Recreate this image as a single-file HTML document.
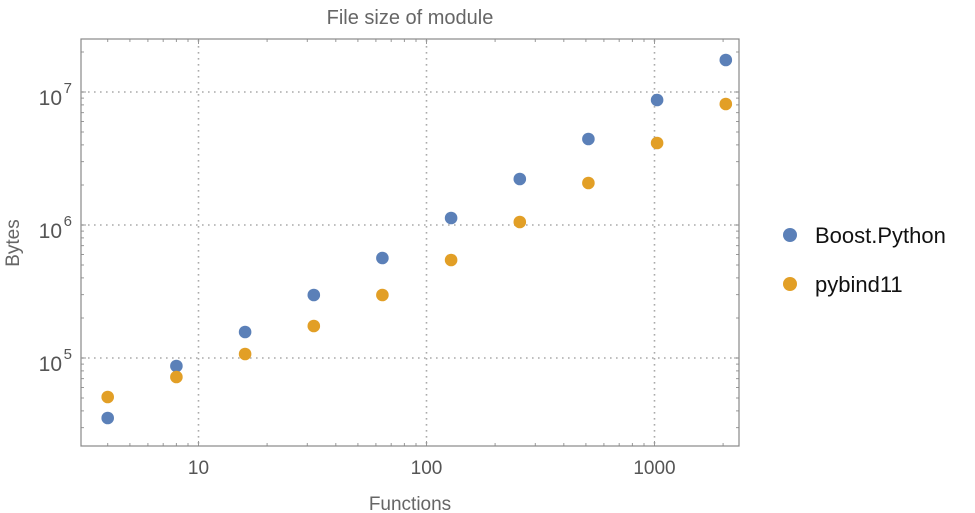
<!DOCTYPE html>
<html><head><meta charset="utf-8"><style>
body{margin:0;background:#fff;}
svg{display:block;font-family:"Liberation Sans",sans-serif;}
</style></head><body>
<svg width="975" height="513" viewBox="0 0 975 513" xmlns="http://www.w3.org/2000/svg">
<rect width="975" height="513" fill="#fff"/>
<text x="410" y="24" font-size="20" fill="#666" text-anchor="middle">File size of module</text>
<g stroke="#aaa" stroke-width="1.6" stroke-dasharray="1.6,4.4">
<line x1="198.5" y1="40" x2="198.5" y2="445"/>
<line x1="426.5" y1="40" x2="426.5" y2="445"/>
<line x1="654.5" y1="40" x2="654.5" y2="445"/>
<line x1="82" y1="92" x2="738" y2="92"/>
<line x1="82" y1="225" x2="738" y2="225"/>
<line x1="82" y1="358" x2="738" y2="358"/>
</g>
<g stroke="#999" stroke-width="1">
<path d="M107.7 446v-3M129.9 446v-3M147.9 446v-3M163.2 446v-3M176.4 446v-3M188 446v-3M267.1 446v-3M307.3 446v-3M335.8 446v-3M357.9 446v-3M375.9 446v-3M391.2 446v-3M404.4 446v-3M416 446v-3M495.1 446v-3M535.3 446v-3M563.8 446v-3M585.9 446v-3M603.9 446v-3M619.2 446v-3M632.4 446v-3M644 446v-3M723.1 446v-3M198.5 446v-5M426.5 446v-5M654.5 446v-5"/>
<path d="M107.7 39v3M129.9 39v3M147.9 39v3M163.2 39v3M176.4 39v3M188 39v3M267.1 39v3M307.3 39v3M335.8 39v3M357.9 39v3M375.9 39v3M391.2 39v3M404.4 39v3M416 39v3M495.1 39v3M535.3 39v3M563.8 39v3M585.9 39v3M603.9 39v3M619.2 39v3M632.4 39v3M644 39v3M723.1 39v3M198.5 39v5M426.5 39v5M654.5 39v5"/>
<path d="M81 427.6h3M81 410.9h3M81 398h3M81 387.5h3M81 378.6h3M81 370.9h3M81 364.1h3M81 318h3M81 294.6h3M81 277.9h3M81 265h3M81 254.5h3M81 245.6h3M81 237.9h3M81 231.1h3M81 185h3M81 161.6h3M81 144.9h3M81 132h3M81 121.5h3M81 112.6h3M81 104.9h3M81 98.1h3M81 52h3M81 358h5M81 225h5M81 92h5"/>
<path d="M739 427.6h-3M739 410.9h-3M739 398h-3M739 387.5h-3M739 378.6h-3M739 370.9h-3M739 364.1h-3M739 318h-3M739 294.6h-3M739 277.9h-3M739 265h-3M739 254.5h-3M739 245.6h-3M739 237.9h-3M739 231.1h-3M739 185h-3M739 161.6h-3M739 144.9h-3M739 132h-3M739 121.5h-3M739 112.6h-3M739 104.9h-3M739 98.1h-3M739 52h-3M739 358h-5M739 225h-5M739 92h-5"/>
</g>
<rect x="81" y="39" width="658" height="407" fill="none" stroke="#888" stroke-width="1.2"/>
<g font-size="19" fill="#555" text-anchor="middle">
<text x="198.5" y="474">10</text>
<text x="426.5" y="474">100</text>
<text x="654.5" y="474">1000</text>
</g>
<g font-size="21" fill="#555" text-anchor="end">
<text x="62" y="105">10</text><text x="72" y="93" font-size="15">7</text>
<text x="62" y="238">10</text><text x="72" y="226" font-size="15">6</text>
<text x="62" y="371">10</text><text x="72" y="359" font-size="15">5</text>
</g>
<text x="410" y="510" font-size="19" fill="#666" text-anchor="middle">Functions</text>
<text x="19" y="243" font-size="19" fill="#666" text-anchor="middle" transform="rotate(-90 19 243)">Bytes</text>
<g fill="#5b80b8">
<circle cx="107.7" cy="418" r="6.3"/><circle cx="176.4" cy="366" r="6.3"/><circle cx="245.1" cy="332" r="6.3"/><circle cx="313.8" cy="295" r="6.3"/><circle cx="382.4" cy="258" r="6.3"/><circle cx="451.1" cy="218" r="6.3"/><circle cx="519.8" cy="179" r="6.3"/><circle cx="588.4" cy="139" r="6.3"/><circle cx="657.1" cy="100" r="6.3"/><circle cx="725.8" cy="60" r="6.3"/>
</g>
<g fill="#e29f26">
<circle cx="107.7" cy="397" r="6.3"/><circle cx="176.4" cy="377" r="6.3"/><circle cx="245.1" cy="354" r="6.3"/><circle cx="313.8" cy="326" r="6.3"/><circle cx="382.4" cy="295" r="6.3"/><circle cx="451.1" cy="260" r="6.3"/><circle cx="519.8" cy="222" r="6.3"/><circle cx="588.4" cy="183" r="6.3"/><circle cx="657.1" cy="143" r="6.3"/><circle cx="725.8" cy="104" r="6.3"/>
</g>
<circle cx="790" cy="235" r="7" fill="#5b80b8"/>
<circle cx="790" cy="284" r="7" fill="#e29f26"/>
<text x="815" y="243" font-size="22" fill="#111">Boost.Python</text>
<text x="815" y="292" font-size="22" fill="#111">pybind11</text>
</svg>
</body></html>
